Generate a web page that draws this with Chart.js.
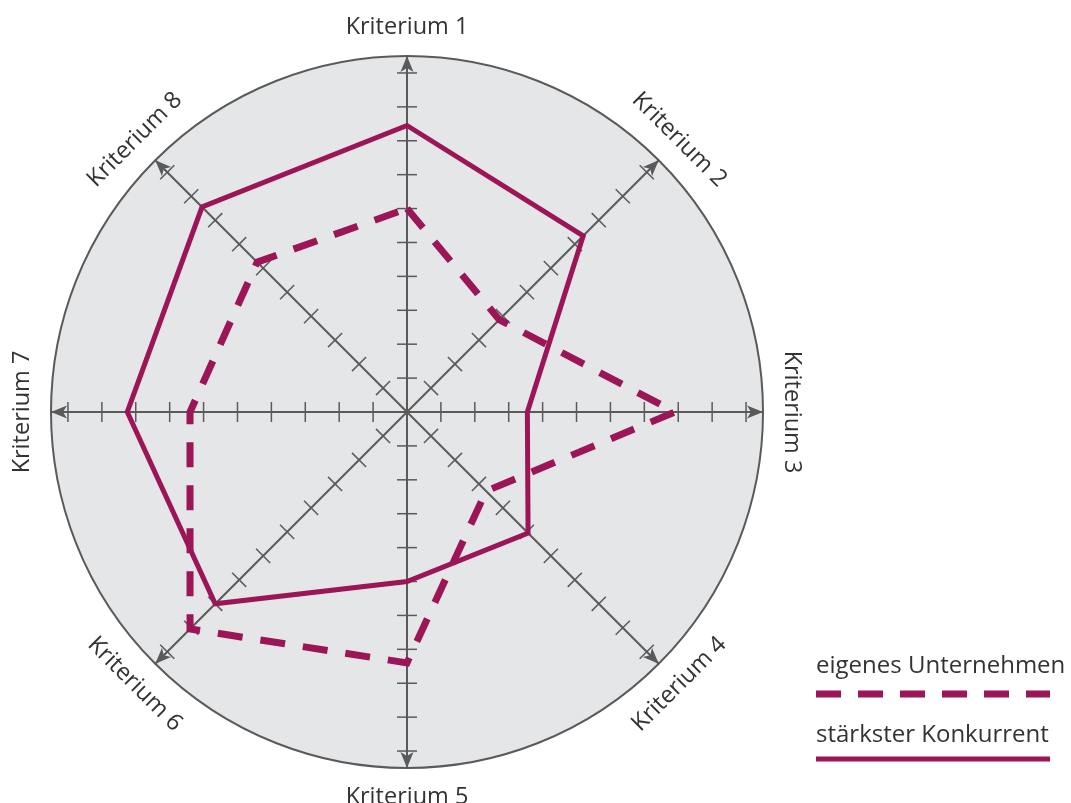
<!DOCTYPE html>
<html>
<head>
<meta charset="utf-8">
<script src="https://cdn.jsdelivr.net/npm/chart.js@4/dist/chart.umd.min.js"></script>
<style>
  html, body { margin: 0; padding: 0; background: #ffffff; }
  #wrap { width: 1071px; height: 803px; position: relative; }
</style>
</head>
<body>
<div id="wrap"><canvas id="c" width="1071" height="803"></canvas></div>
<script>
// ---- data ----
const categories = ["Kriterium 1", "Kriterium 2", "Kriterium 3", "Kriterium 4",
                    "Kriterium 5", "Kriterium 6", "Kriterium 7", "Kriterium 8"];
const eigenesUnternehmen = [6.0, 3.85, 7.9, 3.3, 7.4, 9.05, 6.4, 6.25];
const staerksterKonkurrent = [8.45, 7.35, 3.55, 5.05, 5.0, 8.0, 8.25, 8.55];
const tickValues = [1, 2, 3, 4, 5, 6, 7, 8, 9, 10];
const seriesNames = ["eigenes Unternehmen", "stärkster Konkurrent"];

const LINE_COLOR = "#9b1557";
const AXIS_COLOR = "#5a5a5a";
const TEXT_COLOR = "#333333";
const FONT = "'Open Sans', 'Noto Sans', sans-serif";

const decorPlugin = {
  id: "decor",
  beforeDraw(chart) {
    const s = chart.scales.r;
    const ctx = chart.ctx;
    ctx.save();
    ctx.beginPath();
    ctx.arc(s.xCenter, s.yCenter, s.drawingArea, 0, Math.PI * 2);
    ctx.fillStyle = "#e5e6e8";
    ctx.fill();
    ctx.lineWidth = 2;
    ctx.strokeStyle = AXIS_COLOR;
    ctx.stroke();
    ctx.restore();
  },
  beforeDatasetsDraw(chart) {
    const s = chart.scales.r;
    const ctx = chart.ctx;
    const n = categories.length;
    ctx.save();
    ctx.strokeStyle = AXIS_COLOR;
    ctx.fillStyle = AXIS_COLOR;
    for (let i = 0; i < n; i++) {
      const tip = s.getPointPosition(i, s.drawingArea);
      const ang = tip.angle;
      const ux = Math.cos(ang), uy = Math.sin(ang);
      const px = -uy, py = ux;
      ctx.lineWidth = 1.5;
      tickValues.forEach(v => {
        const p = s.getPointPositionForValue(i, v);
        ctx.beginPath();
        ctx.moveTo(p.x - px * 10, p.y - py * 10);
        ctx.lineTo(p.x + px * 10, p.y + py * 10);
        ctx.stroke();
      });
      const L = 16, W = 6.5;
      const bx = tip.x - ux * L, by = tip.y - uy * L;
      const nx = tip.x - ux * (L - 4), ny = tip.y - uy * (L - 4);
      ctx.beginPath();
      ctx.moveTo(tip.x, tip.y);
      ctx.lineTo(bx + px * W, by + py * W);
      ctx.lineTo(nx, ny);
      ctx.lineTo(bx - px * W, by - py * W);
      ctx.closePath();
      ctx.fill();
    }
    ctx.restore();
  },
  afterDraw(chart) {
    const s = chart.scales.r;
    const ctx = chart.ctx;
    const n = categories.length;
    ctx.save();
    ctx.fillStyle = TEXT_COLOR;
    ctx.font = "23.5px " + FONT;
    ctx.textAlign = "center";
    ctx.textBaseline = "middle";
    for (let i = 0; i < n; i++) {
      const p = s.getPointPosition(i, s.drawingArea + 29);
      let a = i * 360 / n;
      if (a > 90 && a < 270) a -= 180;
      else if (a >= 270) a -= 360;
      ctx.save();
      ctx.translate(p.x, p.y);
      ctx.rotate(a * Math.PI / 180);
      ctx.fillText(categories[i], 0, 0);
      ctx.restore();
    }
    // legend
    const lx = 816, lx2 = 1050;
    ctx.textAlign = "left";
    ctx.textBaseline = "alphabetic";
    ctx.font = "24px " + FONT;
    ctx.fillText(seriesNames[0], lx, 673);
    ctx.fillText(seriesNames[1], lx, 742);
    ctx.strokeStyle = LINE_COLOR;
    ctx.lineWidth = 7;
    ctx.setLineDash([25, 17]);
    ctx.beginPath();
    ctx.moveTo(lx, 694); ctx.lineTo(lx2, 694);
    ctx.stroke();
    ctx.setLineDash([]);
    ctx.lineWidth = 5;
    ctx.beginPath();
    ctx.moveTo(lx, 759); ctx.lineTo(lx2, 759);
    ctx.stroke();
    ctx.restore();
  }
};

new Chart(document.getElementById("c"), {
  type: "radar",
  data: {
    labels: categories,
    datasets: [
      {
        label: seriesNames[0],
        data: eigenesUnternehmen,
        borderColor: LINE_COLOR,
        borderWidth: 7,
        borderDash: [25, 18],
        borderJoinStyle: "miter",
        borderCapStyle: "butt",
        fill: false,
        pointRadius: 0,
        tension: 0
      },
      {
        label: seriesNames[1],
        data: staerksterKonkurrent,
        borderColor: LINE_COLOR,
        borderWidth: 5,
        borderJoinStyle: "miter",
        fill: false,
        pointRadius: 0,
        tension: 0
      }
    ]
  },
  options: {
    responsive: false,
    animation: false,
    layout: { padding: { left: 51, top: 56, right: 308, bottom: 35 } },
    plugins: { legend: { display: false }, tooltip: { enabled: false } },
    scales: {
      r: {
        min: 0,
        max: 10.5,
        ticks: { display: false, stepSize: 1 },
        grid: { display: false },
        angleLines: { display: true, color: AXIS_COLOR, lineWidth: 2 },
        pointLabels: { display: false }
      }
    }
  },
  plugins: [decorPlugin]
});
</script>
</body>
</html>
